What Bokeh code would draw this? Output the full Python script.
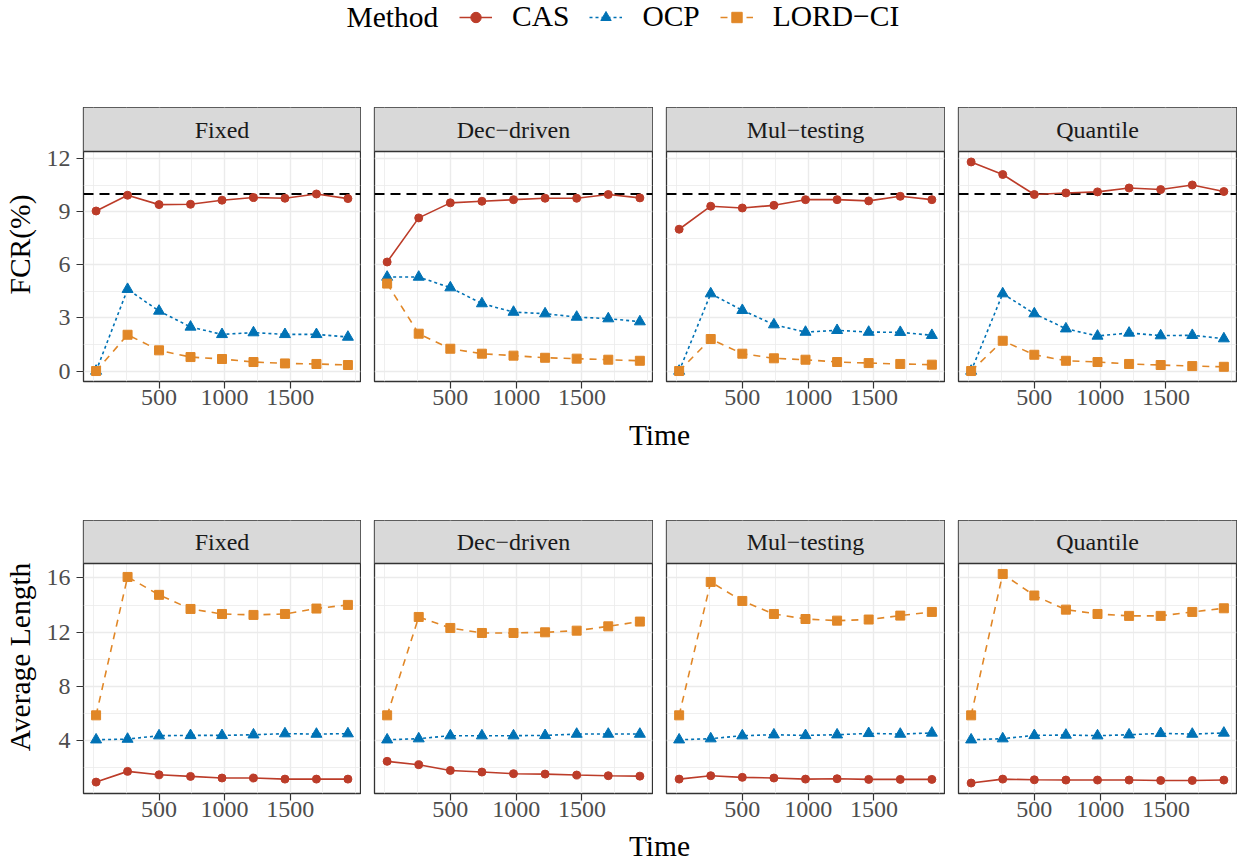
from bokeh.plotting import figure
from bokeh.layouts import column, row
from bokeh.models import (Range1d, FixedTicker, Grid, Span, Label, Legend, LegendItem,
                          BoxAnnotation)
from bokeh.embed import file_html
from bokeh.resources import INLINE

# ---------------- data ----------------
TIME = [20, 260, 500, 740, 980, 1220, 1460, 1700, 1940]
SETTINGS = ["Fixed", "Dec\u2212driven", "Mul\u2212testing", "Quantile"]
METHODS = ["CAS", "OCP", "LORD\u2212CI"]
TARGET_FCR = 10

X_TICKS = [500, 1000, 1500]
X_MINOR = [0, 250, 750, 1250, 1750, 2000]
FCR_TICKS = [0, 3, 6, 9, 12]
FCR_MINOR = [1.5, 4.5, 7.5, 10.5]
LEN_TICKS = [4, 8, 12, 16]
LEN_MINOR = [2, 6, 10, 14]

fcr_cas_fixed = [9.04, 9.93, 9.40, 9.42, 9.65, 9.80, 9.76, 10.0, 9.74]
fcr_cas_dec = [6.16, 8.65, 9.50, 9.59, 9.68, 9.76, 9.76, 9.97, 9.78]
fcr_cas_mul = [8.01, 9.31, 9.21, 9.36, 9.68, 9.68, 9.61, 9.87, 9.68]
fcr_cas_quant = [11.81, 11.10, 9.97, 10.06, 10.12, 10.34, 10.25, 10.51, 10.14]

fcr_ocp_fixed = [0.0, 4.62, 3.39, 2.49, 2.07, 2.17, 2.07, 2.07, 1.92]
fcr_ocp_dec = [5.31, 5.31, 4.71, 3.81, 3.33, 3.24, 3.05, 2.96, 2.79]
fcr_ocp_mul = [0.0, 4.37, 3.43, 2.62, 2.20, 2.30, 2.20, 2.19, 2.02]
fcr_ocp_quant = [0.0, 4.37, 3.24, 2.39, 1.98, 2.15, 2.00, 2.02, 1.83]

fcr_lord_fixed = [0.0, 2.05, 1.17, 0.79, 0.68, 0.51, 0.43, 0.40, 0.34]
fcr_lord_dec = [4.94, 2.11, 1.26, 0.98, 0.87, 0.75, 0.70, 0.64, 0.58]
fcr_lord_mul = [0.0, 1.81, 0.98, 0.72, 0.64, 0.51, 0.45, 0.40, 0.36]
fcr_lord_quant = [0.0, 1.71, 0.92, 0.58, 0.51, 0.40, 0.34, 0.28, 0.24]

len_cas_fixed = [0.95, 1.74, 1.49, 1.37, 1.25, 1.25, 1.17, 1.17, 1.17]
len_cas_dec = [2.48, 2.23, 1.81, 1.69, 1.57, 1.54, 1.47, 1.42, 1.39]
len_cas_mul = [1.17, 1.42, 1.30, 1.25, 1.17, 1.20, 1.15, 1.15, 1.15]
len_cas_quant = [0.88, 1.17, 1.12, 1.10, 1.10, 1.10, 1.07, 1.07, 1.10]

len_ocp_fixed = [4.07, 4.12, 4.37, 4.39, 4.39, 4.44, 4.52, 4.49, 4.52]
len_ocp_dec = [4.07, 4.15, 4.37, 4.37, 4.37, 4.39, 4.49, 4.49, 4.49]
len_ocp_mul = [4.07, 4.15, 4.37, 4.44, 4.39, 4.44, 4.54, 4.49, 4.57]
len_ocp_quant = [4.07, 4.15, 4.39, 4.42, 4.37, 4.44, 4.54, 4.49, 4.57]

len_lord_fixed = [5.87, 16.07, 14.75, 13.71, 13.34, 13.27, 13.34, 13.74, 14.01]
len_lord_dec = [5.87, 13.12, 12.31, 11.94, 11.94, 11.99, 12.11, 12.43, 12.78]
len_lord_mul = [5.87, 15.70, 14.30, 13.34, 12.97, 12.85, 12.93, 13.22, 13.49]
len_lord_quant = [5.87, 16.29, 14.70, 13.66, 13.34, 13.20, 13.20, 13.49, 13.76]

FCR = {
    "CAS": [fcr_cas_fixed, fcr_cas_dec, fcr_cas_mul, fcr_cas_quant],
    "OCP": [fcr_ocp_fixed, fcr_ocp_dec, fcr_ocp_mul, fcr_ocp_quant],
    "LORD\u2212CI": [fcr_lord_fixed, fcr_lord_dec, fcr_lord_mul, fcr_lord_quant],
}
LEN = {
    "CAS": [len_cas_fixed, len_cas_dec, len_cas_mul, len_cas_quant],
    "OCP": [len_ocp_fixed, len_ocp_dec, len_ocp_mul, len_ocp_quant],
    "LORD\u2212CI": [len_lord_fixed, len_lord_dec, len_lord_mul, len_lord_quant],
}

# ---------------- style ----------------
FONT = "Liberation Serif"
COLORS = {"CAS": "#BC3C29", "OCP": "#0072B5", "LORD\u2212CI": "#E18727"}
DASHES = {"CAS": "solid", "OCP": "3 3", "LORD\u2212CI": "7 6"}
MARKERS = {"CAS": "circle", "OCP": "triangle", "LORD\u2212CI": "square"}
SIZES = {"CAS": 8, "OCP": 11, "LORD\u2212CI": 9}
LINE_W = 1.6
GRID_C = "#EBEBEB"
BORDER_C = "#333333"
STRIP_C = "#D9D9D9"

FRAME_W = 278
PANEL_H = 230
BOTTOM = 35
LEFT0 = 82
GAP = 13
TOTAL_W = LEFT0 + FRAME_W + 1 + 3 * (GAP + FRAME_W + 1)


def data_limits(vals):
    lo, hi = min(vals), max(vals)
    pad = 0.05 * (hi - lo)
    return lo - pad, hi + pad


x_lo, x_hi = data_limits(TIME)
x_range = Range1d(x_lo, x_hi)


def blank_fig(w, h, **kw):
    f = figure(width=w, height=h, x_range=Range1d(0, 1), y_range=Range1d(0, 1),
               x_axis_location=None, y_axis_location=None, output_backend="svg",
               toolbar_location=None, **kw)
    f.grid.visible = False
    return f


def panel(c, data, limits, strip_h, yticks, yminor, ylabel, hline=None):
    lo, hi = limits
    # extend the y range upward so that the facet strip sits inside the frame
    hi_ext = hi + strip_h * (hi - lo) / PANEL_H
    left = LEFT0 if c == 0 else GAP
    p = figure(width=left + FRAME_W + 1, height=PANEL_H + strip_h + BOTTOM,
               x_range=x_range, y_range=Range1d(lo, hi_ext),
               min_border_left=left, min_border_right=1, min_border_top=0, min_border_bottom=BOTTOM,
               y_axis_location="left" if c == 0 else None, output_backend="svg",
               toolbar_location=None, background_fill_color="white",
               outline_line_color=BORDER_C, outline_line_width=1.3)
    p.grid.visible = False
    p.add_layout(Grid(dimension=0, ticker=FixedTicker(ticks=X_TICKS, minor_ticks=X_MINOR),
                      grid_line_color=GRID_C, grid_line_width=1.4,
                      minor_grid_line_color=GRID_C, minor_grid_line_width=0.8))
    p.add_layout(Grid(dimension=1, ticker=FixedTicker(ticks=yticks, minor_ticks=yminor),
                      grid_line_color=GRID_C, grid_line_width=1.4,
                      minor_grid_line_color=GRID_C, minor_grid_line_width=0.8))
    axes = [p.xaxis[0]]
    p.xaxis.ticker = FixedTicker(ticks=X_TICKS)
    p.xaxis.major_label_standoff = 1
    if c == 0:
        p.yaxis.ticker = FixedTicker(ticks=yticks)
        p.yaxis.axis_label = ylabel
        p.yaxis.axis_label_text_font = FONT
        p.yaxis.axis_label_text_font_size = "29.5px"
        p.yaxis.axis_label_text_font_style = "normal"
        p.yaxis.axis_label_text_color = "black"
        p.yaxis.axis_label_standoff = 8
        p.yaxis.major_label_standoff = 6
        axes.append(p.yaxis[0])
    for ax in axes:
        ax.axis_line_color = None
        ax.minor_tick_line_color = None
        ax.major_tick_line_color = BORDER_C
        ax.major_tick_line_width = 1.2
        ax.major_tick_out = 7
        ax.major_tick_in = 0
        ax.major_label_text_font = FONT
        ax.major_label_text_font_size = "24px"
        ax.major_label_text_color = "#4D4D4D"
    if hline is not None:
        p.add_layout(Span(location=hline, dimension="width", line_color="black",
                          line_width=2.2, line_dash="10 6", level="underlay"))
    for m in METHODS:
        p.line(TIME, data[m][c], line_color=COLORS[m], line_width=LINE_W, line_dash=DASHES[m])
    for m in METHODS:
        p.scatter(TIME, data[m][c], marker=MARKERS[m], size=SIZES[m],
                  fill_color=COLORS[m], line_color=COLORS[m])
    # facet strip
    p.add_layout(BoxAnnotation(bottom=hi, fill_color=STRIP_C, fill_alpha=1.0, line_color=None))
    p.add_layout(Span(location=hi, dimension="width", line_color=BORDER_C, line_width=1.3))
    p.add_layout(Label(x=(x_lo + x_hi) / 2, y=(hi + hi_ext) / 2, text=SETTINGS[c],
                       text_align="center", text_baseline="middle",
                       text_font=FONT, text_font_size="24px", text_color="#1A1A1A"))
    return p


def time_fig(h, y_from_top):
    t = blank_fig(TOTAL_W, h, min_border=0, outline_line_color=None)
    t.add_layout(Label(x=659, y=h - y_from_top, x_units="screen", y_units="screen",
                       text="Time", text_align="center", text_baseline="middle",
                       text_font=FONT, text_font_size="29.5px", text_color="black"))
    return t


fcr_all = [v for m in METHODS for s in FCR[m] for v in s]
len_all = [v for m in METHODS for s in LEN[m] for v in s]
fcr_lim = data_limits(fcr_all)
len_lim = data_limits(len_all)

# legend figure
LEG_H = 107
LEG_MID = 16.5
NAN = float("nan")
lg = blank_fig(TOTAL_W, LEG_H, min_border=0, outline_line_color=None)
items = []
for m in METHODS:
    r1 = lg.line(x=[NAN], y=[NAN], line_color=COLORS[m], line_width=LINE_W, line_dash=DASHES[m])
    r2 = lg.scatter(x=[NAN], y=[NAN], marker=MARKERS[m], size=SIZES[m], fill_color=COLORS[m],
                    line_color=COLORS[m])
    items.append(LegendItem(label=m, renderers=[r1, r2]))
legend = Legend(items=items, orientation="horizontal", location=(459, LEG_H - LEG_MID - 16.5),
                label_text_font=FONT, label_text_font_size="29.5px", label_text_color="black",
                label_height=33, glyph_width=33, glyph_height=26, label_standoff=20, spacing=20,
                padding=0, margin=0, border_line_color=None, background_fill_alpha=0)
lg.add_layout(legend, "center")
lg.add_layout(Label(x=346, y=LEG_H - LEG_MID, x_units="screen", y_units="screen", text="Method",
                    text_align="left", text_baseline="middle", text_font=FONT,
                    text_font_size="29.5px", text_color="black"))

panels1 = row(*[panel(c, FCR, fcr_lim, 44, FCR_TICKS, FCR_MINOR, "FCR(%)", hline=TARGET_FCR)
                for c in range(4)])
time1 = time_fig(104, 18)
panels2 = row(*[panel(c, LEN, len_lim, 43, LEN_TICKS, LEN_MINOR, "Average Length")
                for c in range(4)])
time2 = time_fig(34, 17)

layout = column(lg, panels1, time1, panels2, time2)

open("out.html", "w").write(file_html(layout, INLINE))
